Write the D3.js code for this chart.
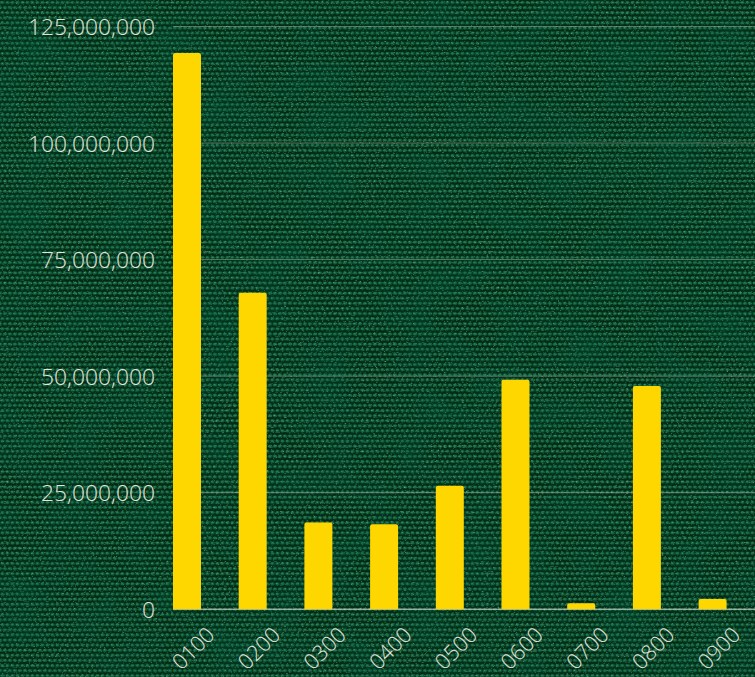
<!DOCTYPE html>
<html><head><meta charset="utf-8">
<script src="https://cdn.jsdelivr.net/npm/d3@7"></script>
<style>
html,body{margin:0;padding:0;background:#08401f;}
svg{display:block;}
</style></head>
<body>
<script>
const categories = ["0100","0200","0300","0400","0500","0600","0700","0800","0900"];
const values = [119300000, 67900000, 18600000, 18200000, 26500000, 49200000, 1270000, 47900000, 2200000];
const yTicks = [0, 25000000, 50000000, 75000000, 100000000, 125000000];

const W = 755, H = 677;
const margin = {left: 173, right: 29, top: 26.5, bottom: 67.8};
const svg = d3.select("body").append("svg").attr("width", W).attr("height", H);

// textured background (knit-like rows)
const defs = svg.append("defs");
const pat = defs.append("pattern").attr("id","knit").attr("patternUnits","userSpaceOnUse")
  .attr("width", 10).attr("height", 10.2);
pat.append("rect").attr("width",10).attr("height",10.2).attr("fill","#022914");
[[2.5,2.6],[7.5,2.6],[0,7.7],[5,7.7],[10,7.7]].forEach(([cx,cy])=>{
  pat.append("ellipse").attr("cx",cx).attr("cy",cy).attr("rx",2.3).attr("ry",1.6).attr("fill","#125a37");
  pat.append("ellipse").attr("cx",cx-0.3).attr("cy",cy-0.3).attr("rx",1.2).attr("ry",0.8).attr("fill","#2f9466").attr("opacity",0.7);
});
const f = defs.append("filter").attr("id","noise").attr("x",0).attr("y",0).attr("width","100%").attr("height","100%");
f.append("feTurbulence").attr("type","fractalNoise").attr("baseFrequency","0.45 0.8").attr("numOctaves",2).attr("seed",7).attr("result","n");
f.append("feColorMatrix").attr("in","n").attr("type","matrix")
  .attr("values","0 0 0 0 0.3  0 0 0 0 0.8  0 0 0 0 0.6  2.4 0 0 0 -1.4");
const f2 = defs.append("filter").attr("id","dark").attr("x",0).attr("y",0).attr("width","100%").attr("height","100%");
f2.append("feTurbulence").attr("type","fractalNoise").attr("baseFrequency","0.02 0.03").attr("numOctaves",2).attr("seed",3).attr("result","n");
f2.append("feColorMatrix").attr("in","n").attr("type","matrix")
  .attr("values","0 0 0 0 0.0  0 0 0 0 0.1  0 0 0 0 0.05  1.2 0 0 0 -0.4");
svg.append("rect").attr("width",W).attr("height",H).attr("fill","url(#knit)");
svg.append("rect").attr("width",W).attr("height",H).attr("filter","url(#noise)").attr("opacity",0.65);
svg.append("rect").attr("width",W).attr("height",H).attr("filter","url(#dark)").attr("opacity",0.5);

const x = d3.scaleBand().domain(categories)
  .range([margin.left, margin.left + 8*65.7 + 28]).paddingInner(0.574).paddingOuter(0);
const y = d3.scaleLinear().domain([0, 125000000]).range([H - margin.bottom, margin.top]);

// gridlines
svg.append("g").selectAll("line").data(yTicks).join("line")
  .attr("x1", margin.left).attr("x2", W)
  .attr("y1", d => y(d)).attr("y2", d => y(d))
  .attr("stroke", d => d === 0 ? "rgba(235,235,225,0.85)" : "rgba(215,215,195,0.42)")
  .attr("stroke-width", 1);

// y axis labels
const yAxis = d3.axisLeft(y).tickValues(yTicks).tickFormat(d3.format(",")).tickSize(0).tickPadding(0);
const gy = svg.append("g").attr("transform", `translate(155,0)`).call(yAxis);
gy.select(".domain").remove();
gy.selectAll("text").attr("fill","#e4e4dc").attr("font-family","'Open Sans'").attr("font-weight",300)
  .attr("font-size","22.8px").attr("dy","0.36em");

// bars
const r = 2;
svg.append("g").selectAll("path").data(categories).join("path")
  .attr("fill","#ffd700")
  .attr("d", (c,i) => {
    const x0 = x(c), w = x.bandwidth(), y0 = y(values[i]), y1 = y(0);
    const rr = Math.min(r, (y1-y0)/2);
    return `M${x0},${y1}V${y0+rr}Q${x0},${y0} ${x0+rr},${y0}H${x0+w-rr}Q${x0+w},${y0} ${x0+w},${y0+rr}V${y1}Z`;
  });

// x axis labels
const xAxis = d3.axisBottom(x).tickSize(0).tickPadding(0);
const gx = svg.append("g").attr("transform", `translate(0,${y(0)})`).call(xAxis);
gx.select(".domain").remove();
gx.selectAll("text")
  .attr("fill","#e4e4dc").attr("font-family","'Open Sans'").attr("font-weight",300).attr("font-size","21.5px")
  .attr("text-anchor","end").attr("dy",0).attr("y",0)
  .attr("transform","translate(29,27) rotate(-45)");
</script>
</body></html>
